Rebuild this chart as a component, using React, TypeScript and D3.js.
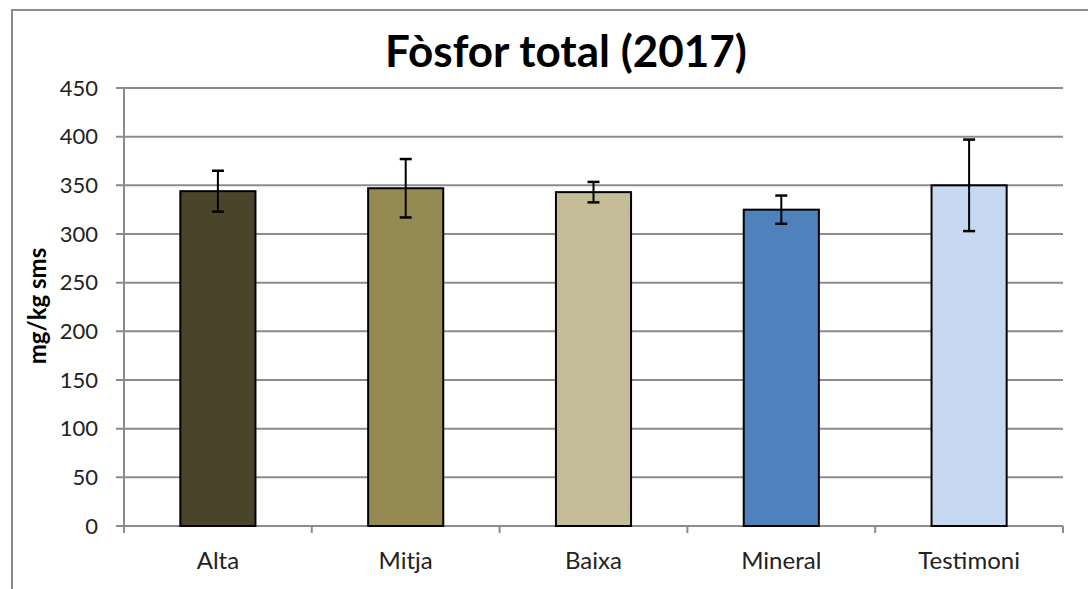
import * as d3 from "d3";

const categories = ["Alta", "Mitja", "Baixa", "Mineral", "Testimoni"];
const values = [344, 347, 343, 325, 350];
const errors = [21, 30, 10.5, 14.5, 47];
const colors = ["#4a452a", "#948a54", "#c4bd97", "#4f81bd", "#c6d9f1"];
const yTicks = [0, 50, 100, 150, 200, 250, 300, 350, 400, 450];

const W = 1088;
const H = 589;
const left = 124;
const right = 1063;
const top = 88;
const bottom = 526;
const font = "Lato, 'Open Sans', sans-serif";
const grid = "#8c8c8c";

export default function App() {
  const x = d3.scaleBand().domain(categories).range([left, right]).paddingInner(0.6).paddingOuter(0.3);
  const band = d3.scaleBand().domain(categories).range([left, right]);
  const y = d3.scaleLinear().domain([0, 450]).range([bottom, top]);

  const edges = categories.map((c) => band(c) as number).concat([right]);

  return (
    <div style={{ position: "fixed", left: 0, top: 0 }}>
      <svg width={W} height={H} style={{ display: "block", background: "#fff" }}>
        <rect x={12} y={10} width={1200} height={700} fill="#fff" stroke={grid} strokeWidth={2} />

        {/* lignes de la graella */}
        {yTicks.map((t) => (
          <line key={t} x1={116} x2={right} y1={y(t)} y2={y(t)} stroke={grid} strokeWidth={2} />
        ))}
        {yTicks.map((t) => (
          <text key={"l" + t} x={98} y={y(t)} dy="0.35em" textAnchor="end" fontFamily={font} fontSize={22} fill="#222">
            {t}
          </text>
        ))}
        <line x1={left} x2={left} y1={top} y2={533} stroke={grid} strokeWidth={2} />
        {edges.map((e, i) => (
          <line key={"t" + i} x1={e} x2={e} y1={bottom} y2={533} stroke={grid} strokeWidth={2} />
        ))}

        {categories.map((c, i) => {
          const bx = x(c) as number;
          const cx = bx + x.bandwidth() / 2;
          return (
            <g key={c}>
              <rect x={bx} y={y(values[i])} width={x.bandwidth()} height={bottom - y(values[i])} fill={colors[i]} stroke="#000" strokeWidth={2} />
              <line x1={cx} x2={cx} y1={y(values[i] + errors[i])} y2={y(values[i] - errors[i])} stroke="#000" strokeWidth={2} />
              <line x1={cx - 6} x2={cx + 6} y1={y(values[i] + errors[i])} y2={y(values[i] + errors[i])} stroke="#000" strokeWidth={2.5} />
              <line x1={cx - 6} x2={cx + 6} y1={y(values[i] - errors[i])} y2={y(values[i] - errors[i])} stroke="#000" strokeWidth={2.5} />
              <text x={cx} y={569} textAnchor="middle" fontFamily={font} fontSize={24} fill="#222">
                {c}
              </text>
            </g>
          );
        })}

        <text x={566} y={67} textAnchor="middle" fontFamily={font} fontWeight="bold" fontSize={44} fill="#000">
          Fòsfor total (2017)
        </text>
        <text transform="translate(46,306) rotate(-90)" textAnchor="middle" fontFamily={font} fontWeight="bold" fontSize={24} fill="#000">
          mg/kg sms
        </text>
      </svg>
    </div>
  );
}
